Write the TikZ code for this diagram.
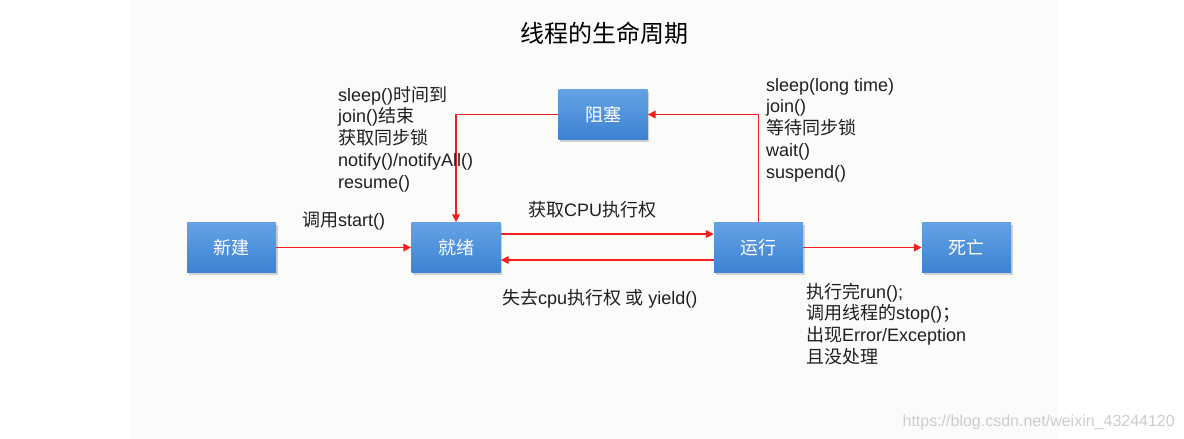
\documentclass[tikz,border=0pt]{standalone}
\usepackage{fontspec}
\setmainfont{Liberation Sans}
\newfontfamily\cjk{Noto Sans CJK SC}
\newcommand{\zh}[1]{{\cjk #1}}
\usetikzlibrary{arrows.meta,shadows}
\definecolor{boxtop}{RGB}{100,162,228}
\definecolor{boxbot}{RGB}{60,130,210}
\definecolor{arrowred}{RGB}{245,30,30}
\definecolor{panel}{RGB}{251,252,250}
\tikzset{
  state/.style={minimum width=89pt,minimum height=50pt,inner sep=0pt,
    top color=boxtop,bottom color=boxbot,draw=none,
    drop shadow={shadow xshift=1.5pt,shadow yshift=-2pt,opacity=0.35,fill=gray},
    text=white,font=\cjk\fontsize{18}{21.7}\selectfont},
  trans/.style={draw=arrowred,line width=1.9pt,-{Triangle[length=8pt,width=7.5pt]}},
  lbl/.style={inner sep=0pt,align=left,text=black!88,font=\fontsize{18}{21.7}\selectfont},
}
\newcommand{\fs}{\rule{0pt}{17pt}}
\begin{document}
\begin{tikzpicture}[x=1pt,y=-1pt]
\useasboundingbox (0,0) rectangle (1184,439);
\fill[white] (0,0) rectangle (1184,439);
\fill[panel] (129,0) rectangle (1059,439);

\node[inner sep=0pt,font=\cjk\fontsize{24}{28}\selectfont] (title) at (604,33) {线程的生命周期};

\node[state] (new)   at (231.5,247.5) {新建};
\node[state] (ready) at (456,247.5)   {就绪};
\node[state] (run)   at (758.5,247.5) {运行};
\node[state] (dead)  at (966.5,247.5) {死亡};
\node[state] (block) at (603,114.5)   {阻塞};

\draw[trans] (new.east) -- (ready.west);
\draw[trans] ([yshift=13.5pt]ready.east) -- ([yshift=13.5pt]run.west);
\draw[trans] ([yshift=-12.5pt]run.west) -- ([yshift=-12.5pt]ready.west -| ready.east);
\draw[trans] (run.east) -- (dead.west);
\draw[trans] (run.north) |- (block.east);
\draw[trans] (block.west) -| (ready.north);

\node[lbl,anchor=north west] (wake) at (338,84)
  {\fs sleep()\zh{时间到}\\ join()\zh{结束}\\ \zh{获取同步锁}\\ notify()/notifyAll()\\ resume()};
\node[lbl,anchor=base west] (start) at (302,226) {\zh{调用}start()};
\node[lbl,anchor=base west] (getcpu) at (528,216) {\zh{获取}CPU\zh{执行权}};
\node[lbl,anchor=north west] (blockreasons) at (766,74)
  {\fs sleep(long time)\\ join()\\ \zh{等待同步锁}\\ wait()\\ suspend()};
\node[lbl,anchor=base west] (lose) at (502,304) {\zh{失去}cpu\zh{执行权 或} yield()};
\node[lbl,anchor=north west] (deathreasons) at (806,281)
  {\fs\zh{执行完}run();\\ \zh{调用线程的}stop()\zh{；}\\ \zh{出现}Error/Exception\\ \zh{且没处理}};

\node[inner sep=0pt,anchor=base east,text=black!20,font=\fontsize{16}{19}\selectfont] (mark) at (1175,426)
  {https://blog.csdn.net/weixin\_43244120};
\end{tikzpicture}
\end{document}
